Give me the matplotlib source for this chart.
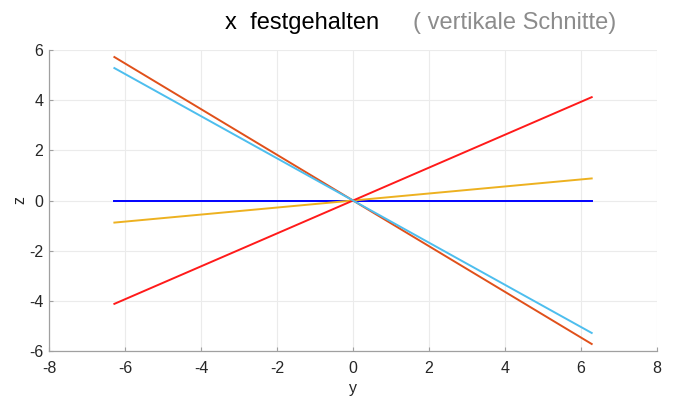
import numpy as np
import matplotlib
matplotlib.use("Agg")
import matplotlib.pyplot as plt

# y range of the cuts (from -2pi to 2pi)
y_end = [-6.28, 6.28]

# z values at the two ends for each line
z_blue = [0.0, 0.0]
z_yellow = [-0.88, 0.88]
z_red = [-4.12, 4.12]
z_orange = [5.72, -5.72]
z_cyan = [5.28, -5.28]

x_ticks = [-8, -6, -4, -2, 0, 2, 4, 6, 8]
z_ticks = [-6, -4, -2, 0, 2, 4, 6]

plt.rcParams['font.family'] = ['Liberation Sans', 'DejaVu Sans']
plt.rcParams['axes.unicode_minus'] = False

fig = plt.figure(figsize=(6.76, 3.96), dpi=100)
ax = fig.add_axes([0.0725, 0.1136, 0.8995, 0.7601])

ax.plot(y_end, z_blue, color='#0000FF', lw=1.4)
ax.plot(y_end, z_yellow, color='#EDB120', lw=1.4)
ax.plot(y_end, z_red, color='#FF1A1A', lw=1.4)
ax.plot(y_end, z_orange, color='#E0501A', lw=1.4)
ax.plot(y_end, z_cyan, color='#4DBEEE', lw=1.4)

ax.set_xlim(-8, 8)
ax.set_ylim(-6, 6)
ax.set_xticks(x_ticks)
ax.set_yticks(z_ticks)
ax.grid(True, color='#EBEBEB', lw=0.8)
ax.set_axisbelow(True)

for side in ['top', 'right']:
    ax.spines[side].set_visible(False)
for side in ['left', 'bottom']:
    ax.spines[side].set_color('#A0A0A0')
    ax.spines[side].set_linewidth(0.9)

ax.tick_params(direction='in', length=3, color='#A0A0A0', labelsize=11.5,
               labelcolor='#262626')
ax.tick_params(axis='x', pad=7)
ax.tick_params(axis='y', pad=4)
ax.set_xlabel('y', fontsize=11.5, color='#262626', labelpad=4)
ax.set_ylabel('z', fontsize=11.5, color='#262626', labelpad=1)

# handwritten-style title in two colours
fig.text(0.333, 0.943, 'x  festgehalten', fontsize=17, color='black',
         va='center', ha='left')
fig.text(0.611, 0.943, '( vertikale Schnitte)', fontsize=17, color='#8C8C8C',
         va='center', ha='left')

fig.savefig('out.png', dpi=100)
